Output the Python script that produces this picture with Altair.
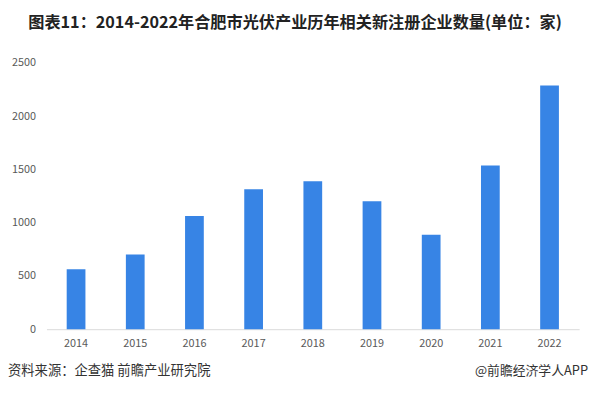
import altair as alt
import pandas as pd

years = ["2014", "2015", "2016", "2017", "2018", "2019", "2020", "2021", "2022"]
counts = [563, 702, 1063, 1313, 1388, 1202, 887, 1536, 2287]

title_text = "图表11：2014-2022年合肥市光伏产业历年相关新注册企业数量(单位：家)"
source_text = "资料来源：企查猫 前瞻产业研究院"
brand_text = "@前瞻经济学人APP"

FONT = "Noto Sans CJK SC"

df = pd.DataFrame({"year": years, "count": counts})

bars = alt.Chart(df).mark_bar(size=19, color="#3784E5").encode(
    x=alt.X("year:N", sort=years, title=None,
            scale=alt.Scale(paddingInner=0, paddingOuter=0),
            axis=alt.Axis(labelAngle=0, ticks=False, domainColor="#d9d9d9",
                          labelColor="#595959", labelFontSize=11, labelFont=FONT,
                          labelPadding=9, grid=False)),
    y=alt.Y("count:Q", title=None,
            scale=alt.Scale(domain=[0, 2500], nice=False),
            axis=alt.Axis(values=[0, 500, 1000, 1500, 2000, 2500], format="d",
                          ticks=False, domain=False, grid=False,
                          labelColor="#595959", labelFontSize=11, labelFont=FONT,
                          labelPadding=11)),
)

src = alt.Chart(pd.DataFrame({"t": [source_text]})).mark_text(
    align="left", baseline="middle", fontSize=13.5, font=FONT, color="#333333"
).encode(text="t:N", x=alt.value(-39), y=alt.value(312))

brand = alt.Chart(pd.DataFrame({"t": [brand_text]})).mark_text(
    align="right", baseline="middle", fontSize=13, font=FONT, color="#333333"
).encode(text="t:N", x=alt.value(549), y=alt.value(312))

chart = alt.layer(bars, src, brand).properties(
    width=540,
    height=270,
    autosize=alt.AutoSizeParams(type="none"),
    padding={"left": 39, "top": 53, "right": 10, "bottom": 56},
    title=alt.TitleParams(title_text, anchor="middle", frame="group", dx=-18,
                          offset=26, fontSize=16.4, fontWeight="bold", font=FONT,
                          color="#222222"),
).configure_view(stroke=None)

chart.save("out.html", embed_options={"renderer": "svg", "actions": False})
